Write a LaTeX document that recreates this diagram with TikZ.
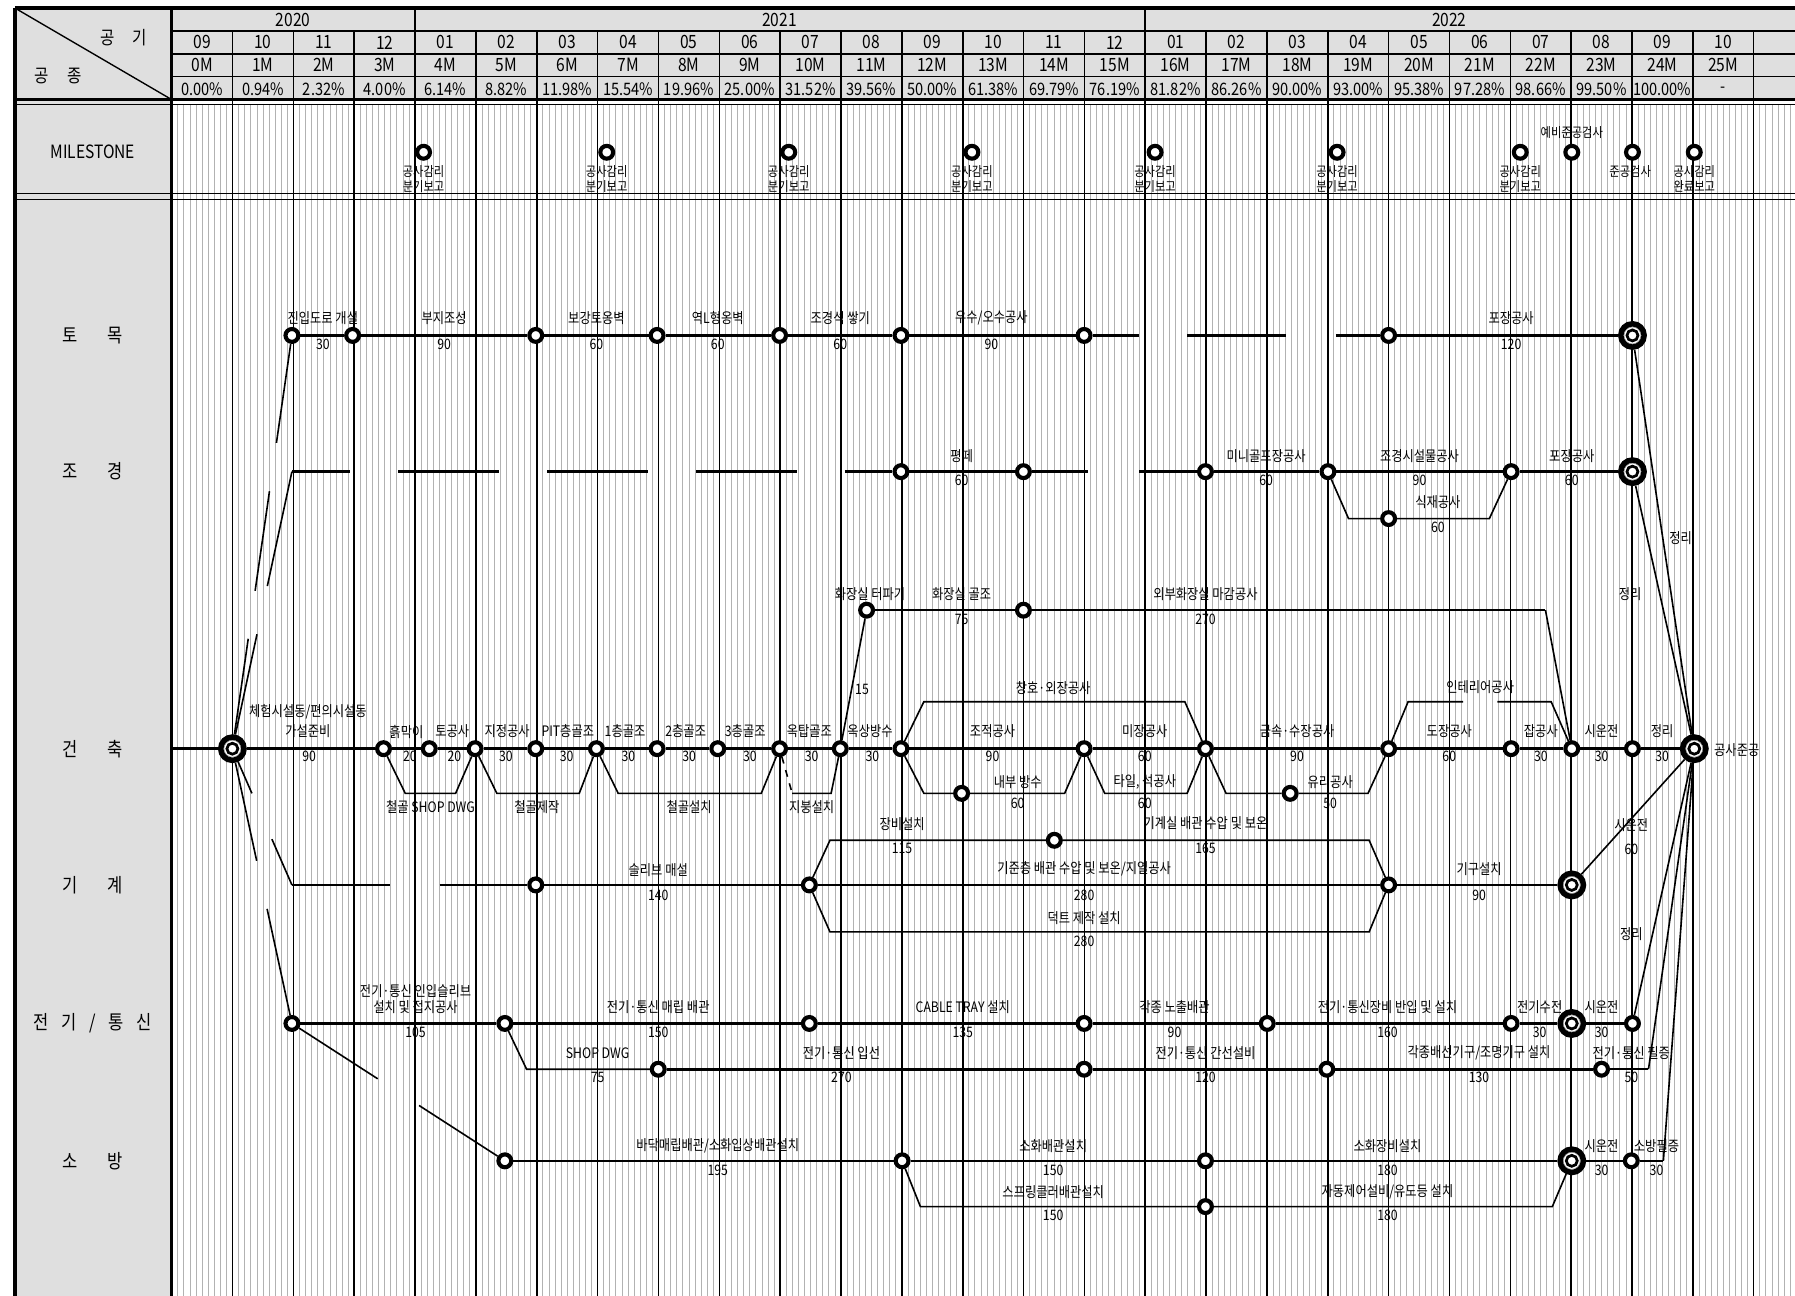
\documentclass[tikz,border=0pt]{standalone}
\usepackage{fontspec}
\setmainfont{Noto Sans CJK KR}[FakeStretch=0.85]
\usetikzlibrary{calc}
\newcounter{lbc}
\newcommand\lbl[3]{\stepcounter{lbc}\node[lab] (lbl\arabic{lbc}) at (#1,#2) {#3};}
\begin{document}
\begin{tikzpicture}[x=0.5pt,y=-0.5pt,
  ev/.style={circle,draw,fill=white,line width=1.8pt,minimum size=5.6pt,inner sep=0pt},
  bigev/.style={circle,draw,fill=white,line width=2.4pt,minimum size=10.2pt,inner sep=0pt,
     path picture={\draw[line width=1.2pt] (path picture bounding box.center) circle (2.4pt);
                   \draw[gray,line width=0.2pt] (path picture bounding box.center) circle (3.7pt);}},
  act/.style={line width=1.1pt},
  lnk/.style={line width=0.7pt},
  lab/.style={font=\fontsize{6.3}{6.3}\selectfont,inner sep=0pt},
  msl/.style={font=\fontsize{5.8}{5.8}\selectfont,inner sep=0pt},
  hdr/.style={font=\fontsize{8}{8}\selectfont,inner sep=0pt},
  pct/.style={font=\fontsize{7.5}{7.5}\selectfont,inner sep=0pt},
  side/.style={font=\fontsize{8.5}{8.5}\selectfont,inner sep=0pt},
  gridsub/.style={gray!60,line width=0.35pt},
  gridmon/.style={black,line width=0.7pt},
]
\useasboundingbox (0,0) rectangle (1568,1132);
\clip (0,0) rectangle (1568,1132);
\fill[white] (0,0) rectangle (1568,1132);
% backgrounds
\fill[gray!25] (13,7) rectangle (1568,87);
\fill[gray!25] (13,87) rectangle (150,1132);
% grid
\foreach \i in {0,...,26} {
  \foreach \j in {1,...,9} {
    \draw[gridsub] ({150+53.15*\i+5.315*\j},91) -- ({150+53.15*\i+5.315*\j},1132);
  }
}
\foreach \i in {0,...,26} \draw[gridmon] ({150+53.15*\i},27) -- ({150+53.15*\i},1132);
\foreach \x in {150,362.6,1000.4} \draw[gridmon] (\x,7) -- (\x,27);
\foreach \y in {27,47,67} \draw[line width=0.6pt] (150,\y) -- (1568,\y);
\draw[line width=1.1pt] (13,87) -- (1568,87);
\draw[line width=0.6pt] (13,91) -- (1568,91);
\draw[line width=0.6pt] (13,169) -- (1568,169);
\draw[line width=0.6pt] (13,174) -- (1568,174);
\draw[line width=1.6pt] (13,7) -- (1568,7);
\draw[line width=1.6pt] (13,7) -- (13,1132);
\draw[line width=1.1pt] (150,7) -- (150,1132);
\draw[line width=0.6pt] (13,7) -- (150,87);
% header texts
\node[hdr] (hq1) at (108,33) {공\hspace{1em}기};
\node[hdr] (hq2) at (51,66) {공\hspace{1em}종};
\node[hdr] (yr1) at (256,17) {2020};
\node[hdr] (yr2) at (681,17) {2021};
\node[hdr] (yr3) at (1266,17) {2022};
\foreach \m [count=\k from 0] in {09,10,11,12,01,02,03,04,05,06,07,08,09,10,11,12,01,02,03,04,05,06,07,08,09,10}
  \node[hdr] (mo\k) at ({150+53.15*(\k+0.5)},37) {\m};
\foreach \k in {0,...,25}
  \node[hdr] (mm\k) at ({150+53.15*(\k+0.5)},57) {\k M};
\foreach \p [count=\k from 0] in {0.00\%,0.94\%,2.32\%,4.00\%,6.14\%,8.82\%,11.98\%,15.54\%,19.96\%,25.00\%,31.52\%,39.56\%,50.00\%,61.38\%,69.79\%,76.19\%,81.82\%,86.26\%,90.00\%,93.00\%,95.38\%,97.28\%,98.66\%,99.50\%,100.00\%,-}
  \node[pct] (pc\k) at ({150+53.15*(\k+0.5)},78) {\p};
% side labels
\node[hdr] (sMS) at (81,133) {MILESTONE};
\node[side] (s1) at (81,293) {토\hspace{1.5em}목};
\node[side] (s2) at (81,412) {조\hspace{1.5em}경};
\node[side] (s3) at (81,654) {건\hspace{1.5em}축};
\node[side] (s4) at (81,773) {기\hspace{1.5em}계};
\node[side] (s5) at (81,894) {전\hspace{0.65em}기\hspace{0.65em}/\hspace{0.65em}통\hspace{0.65em}신};
\node[side] (s6) at (81,1014) {소\hspace{1.5em}방};
% milestones
\foreach \x [count=\k] in {370,530,689,849,1009,1168,1328,1373,1426,1480}
  \node[ev] (m\k) at (\x,133) {};
\foreach \x [count=\k] in {370,530,689,849,1009,1168,1328} {
  \node[msl] (ma\k) at (\x,150) {공사감리};
  \node[msl] (mb\k) at (\x,163) {분기보고};
}
\node[msl] (mc1) at (1373,116) {예비준공검사};
\node[msl] (mc2) at (1424,150) {준공검사};
\node[msl] (mc3) at (1480,150) {공사감리};
\node[msl] (mc4) at (1480,163) {완료보고};
% ---------- nodes ----------
% 토목
\node[ev] (T1) at (255,293) {};
\node[ev] (T2) at (308,293) {};
\node[ev] (T3) at (468,293) {};
\node[ev] (T4) at (574,293) {};
\node[ev] (T5) at (681,293) {};
\node[ev] (T6) at (787,293) {};
\node[ev] (T7) at (947,293) {};
\node[ev] (T8) at (1213,293) {};
\node[bigev] (T9) at (1426,293) {};
\coordinate (T7a) at (995,293);
\coordinate (T7b) at (1037,293);
\coordinate (T7c) at (1123,293);
\coordinate (T7d) at (1167,293);
% 조경
\coordinate (J0) at (255,412);
\node[ev] (J1) at (787,412) {};
\node[ev] (J2) at (894,412) {};
\node[ev] (J3) at (1053,412) {};
\node[ev] (J4) at (1160,412) {};
\node[ev] (J5) at (1320,412) {};
\node[bigev] (J6) at (1426,412) {};
\node[ev] (J7) at (1213,453) {};
% 건축
\coordinate (A0) at (150,654);
\node[bigev] (S) at (203,654) {};
\node[ev] (A1) at (335,654) {};
\node[ev] (A2) at (375,654) {};
\node[ev] (A3) at (415,654) {};
\node[ev] (A4) at (468,654) {};
\node[ev] (A5) at (521,654) {};
\node[ev] (A6) at (574,654) {};
\node[ev] (A7) at (627,654) {};
\node[ev] (A8) at (681,654) {};
\node[ev] (A9) at (734,654) {};
\node[ev] (A10) at (787,654) {};
\node[ev] (A11) at (947,654) {};
\node[ev] (A12) at (1053,654) {};
\node[ev] (A13) at (1213,654) {};
\node[ev] (A14) at (1320,654) {};
\node[ev] (A15) at (1373,654) {};
\node[ev] (A16) at (1426,654) {};
\node[bigev] (E) at (1480,654) {};
\node[ev] (B1) at (757,533) {};
\node[ev] (B2) at (894,533) {};
\node[ev] (B3) at (840,693) {};
\node[ev] (B4) at (1127,693) {};
% 기계
\coordinate (K0) at (255,773);
\node[ev] (K1) at (468,773) {};
\node[ev] (K2) at (707,773) {};
\node[ev] (K3) at (921,734) {};
\node[ev] (K4) at (1213,773) {};
\node[bigev] (K5) at (1373,773) {};
% 전기
\node[ev] (P1) at (255,894) {};
\node[ev] (P2) at (441,894) {};
\node[ev] (P3) at (707,894) {};
\node[ev] (P4) at (947,894) {};
\node[ev] (P5) at (1107,894) {};
\node[ev] (P6) at (1320,894) {};
\node[bigev] (P7) at (1373,894) {};
\node[ev] (P8) at (1426,894) {};
\node[ev] (Q1) at (575,934) {};
\node[ev] (Q2) at (947,934) {};
\node[ev] (Q3) at (1159,934) {};
\node[ev] (Q4) at (1399,934) {};
\coordinate (Q5) at (1440,934);
% 소방
\node[ev] (F1) at (441,1014) {};
\node[ev] (F2) at (788,1014) {};
\node[ev] (F3) at (1053,1014) {};
\node[bigev] (F4) at (1373,1014) {};
\node[ev] (F5) at (1425,1014) {};
\coordinate (F6) at (1453,1014);
\node[ev] (G1) at (1053,1054) {};
% ---------- edges ----------
% start links (broken where they cross)
\draw[lnk] (S) -- ($(S)!0.266!(T1)$);
\draw[lnk] ($(S)!0.382!(T1)$) -- ($(S)!0.623!(T1)$);
\draw[lnk] ($(S)!0.74!(T1)$) -- (T1);
\draw[lnk] (S) -- ($(S)!0.413!(J0)$);
\draw[lnk] ($(S)!0.587!(J0)$) -- (J0);
\draw[lnk] (S) -- ($(S)!0.328!(K0)$);
\draw[lnk] ($(S)!0.664!(K0)$) -- (K0);
\draw[lnk] (S) -- ($(S)!0.408!(P1)$);
\draw[lnk] ($(S)!0.583!(P1)$) -- (P1);
\draw[lnk] (P1) -- ($(P1)!0.403!(F1)$);
\draw[lnk] ($(P1)!0.597!(F1)$) -- (F1);
% 토목
\draw[act] (T1) -- (T2);
\draw[act] (T2) -- (T3);
\draw[act] (T3) -- (T4);
\draw[act] (T4) -- (T5);
\draw[act] (T5) -- (T6);
\draw[act] (T6) -- (T7);
\draw[act] (T7) -- (T7a);
\draw[act] (T7b) -- (T7c);
\draw[act] (T7d) -- (T8);
\draw[act] (T8) -- (T9);
% 조경
\draw[act] (J0) -- (306,412);
\draw[act] (348,412) -- (436,412);
\draw[act] (478,412) -- (566,412);
\draw[act] (608,412) -- (696,412);
\draw[act] (738,412) -- (J1);
\draw[act] (J1) -- (J2);
\draw[act] (J2) -- (950,412);
\draw[act] (995,412) -- (J3);
\draw[act] (J3) -- (J4);
\draw[act] (J4) -- (J5);
\draw[act] (J5) -- (J6);
\draw[lnk] (J4) -- (1178,453) -- (J7);
\draw[lnk] (J7) -- (1301,453) -- (J5);
% 건축 main
\draw[act] (A0) -- (S);
\draw[act] (S) -- (A1);
\draw[act] (A1) -- (A2);
\draw[act] (A2) -- (A3);
\draw[act] (A3) -- (A4);
\draw[act] (A4) -- (A5);
\draw[act] (A5) -- (A6);
\draw[act] (A6) -- (A7);
\draw[act] (A7) -- (A8);
\draw[act] (A8) -- (A9);
\draw[act] (A9) -- (A10);
\draw[act] (A10) -- (A11);
\draw[act] (A11) -- (A12);
\draw[act] (A12) -- (A13);
\draw[act] (A13) -- (A14);
\draw[act] (A14) -- (A15);
\draw[act] (A15) -- (A16);
\draw[act] (A16) -- (E);
% 건축 branches
\draw[lnk] (A1) -- (354,693) -- (398,693) -- (A3);
\draw[lnk] (A3) -- (434,693) -- (506,693) -- (A5);
\draw[lnk] (A5) -- (540,693) -- (665,693) -- (A8);
\draw[lnk,dashed] (A8) -- (692,693);
\draw[lnk] (692,693) -- (726,693) -- (A9);
\draw[lnk] (A9) -- (B1);
\draw[act] (B1) -- (B2);
\draw[act] (B2) -- (1350,533);
\draw[lnk] (1350,533) -- (A15);
\draw[lnk] (A10) -- (807,613) -- (1035,613) -- (A12);
\draw[lnk] (A10) -- (807,693) -- (B3);
\draw[lnk] (B3) -- (930,693) -- (A11);
\draw[lnk] (A11) -- (965,693) -- (1037,693) -- (A12);
\draw[lnk] (A12) -- (1071,693) -- (B4);
\draw[lnk] (B4) -- (1195,693) -- (A13);
\draw[lnk] (A13) -- (1230,613) -- (1278,613);
\draw[lnk] (1308,613) -- (1355,613) -- (A15);
% 기계
\draw[act] (K0) -- (341,773);
\draw[act] (384,773) -- (K1);
\draw[act] (K1) -- (K2);
\draw[act] (K2) -- (K4);
\draw[lnk] (K2) -- (725,734) -- (K3);
\draw[lnk] (K3) -- (1196,734) -- (K4);
\draw[lnk] (K2) -- (725,814) -- (1196,814) -- (K4);
\draw[act] (K4) -- (K5);
% 전기
\draw[act] (P1) -- (P2);
\draw[act] (P2) -- (P3);
\draw[act] (P3) -- (P4);
\draw[act] (P4) -- (P5);
\draw[act] (P5) -- (P6);
\draw[act] (P6) -- (P7);
\draw[act] (P7) -- (P8);
\draw[lnk] (P2) -- (460,934) -- (Q1);
\draw[act] (Q1) -- (Q2);
\draw[act] (Q2) -- (Q3);
\draw[act] (Q3) -- (Q4);
\draw[lnk] (Q4) -- (Q5);
% 소방
\draw[act] (F1) -- (F2);
\draw[act] (F2) -- (F3);
\draw[act] (F3) -- (F4);
\draw[act] (F4) -- (F5);
\draw[lnk] (F5) -- (F6);
\draw[lnk] (F2) -- (804,1054) -- (G1);
\draw[lnk] (G1) -- (1356,1054) -- (F4);
% to completion
\draw[lnk] (T9) -- (E);
\draw[lnk] (J6) -- (E);
\draw[lnk] (K5) -- (E);
\draw[lnk] (P8) -- (E);
\draw[lnk] (Q5) -- (E);
\draw[lnk] (F6) -- (E);
% ---------- labels ----------
% 토목
\lbl{282}{278}{진입도로 개설}\lbl{282}{301}{30}
\lbl{388}{278}{부지조성}\lbl{388}{301}{90}
\lbl{521}{278}{보강토옹벽}\lbl{521}{301}{60}
\lbl{627}{278}{역L형옹벽}\lbl{627}{301}{60}
\lbl{734}{278}{조경석 쌓기}\lbl{734}{301}{60}
\lbl{866}{278}{우수/오수공사}\lbl{866}{301}{90}
\lbl{1320}{278}{포장공사}\lbl{1320}{301}{120}
\lbl{1468}{470}{정리}
% 조경
\lbl{840}{398}{평떼}\lbl{840}{420}{60}
\lbl{1106}{398}{미니골프장공사}\lbl{1106}{420}{60}
\lbl{1240}{398}{조경시설물공사}\lbl{1240}{420}{90}
\lbl{1373}{398}{포장공사}\lbl{1373}{420}{60}
\lbl{1256}{439}{식재공사}\lbl{1256}{461}{60}
\lbl{1424}{519}{정리}
% 건축
\lbl{269}{622}{체험시설동/편의시설동}
\lbl{269}{639}{가설준비}\lbl{270}{661}{90}
\lbl{355}{639}{흙막이}\lbl{358}{661}{20}
\lbl{395}{639}{토공사}\lbl{397}{661}{20}
\lbl{443}{639}{지정공사}\lbl{442}{661}{30}
\lbl{496}{639}{PIT층골조}\lbl{495}{661}{30}
\lbl{546}{639}{1층골조}\lbl{549}{661}{30}
\lbl{599}{639}{2층골조}\lbl{602}{661}{30}
\lbl{651}{639}{3층골조}\lbl{655}{661}{30}
\lbl{707}{639}{옥탑골조}\lbl{709}{661}{30}
\lbl{760}{639}{옥상방수}\lbl{762}{661}{30}
\lbl{867}{639}{조적공사}\lbl{867}{661}{90}
\lbl{1000}{639}{미장공사}\lbl{1000}{661}{60}
\lbl{1133}{639}{금속·수장공사}\lbl{1133}{661}{90}
\lbl{1266}{639}{도장공사}\lbl{1266}{661}{60}
\lbl{1346}{639}{잡공사}\lbl{1346}{661}{30}
\lbl{1399}{639}{시운전}\lbl{1399}{661}{30}
\lbl{1452}{639}{정리}\lbl{1452}{661}{30}
\node[lab,anchor=west] (done) at (1497,655) {공사준공};
\lbl{376}{705}{철골 SHOP DWG}
\lbl{469}{705}{철골제작}
\lbl{602}{705}{철골설치}
\lbl{709}{705}{지붕설치}
\lbl{760}{519}{화장실 터파기}\lbl{753}{602}{15}
\lbl{840}{519}{화장실 골조}\lbl{840}{541}{75}
\lbl{1053}{519}{외부화장실 마감공사}\lbl{1053}{541}{270}
\lbl{920}{601}{창호·외장공사}
\lbl{889}{683}{내부 방수}\lbl{889}{702}{60}
\lbl{1000}{683}{타일, 석공사}\lbl{1000}{702}{60}
\lbl{1162}{683}{유리공사}\lbl{1162}{702}{50}
\lbl{1293}{600}{인테리어공사}
% 기계
\lbl{575}{760}{슬리브 매설}\lbl{575}{782}{140}
\lbl{788}{720}{장비설치}\lbl{788}{741}{115}
\lbl{1053}{719}{기계실 배관 수압 및 보온}\lbl{1053}{741}{165}
\lbl{947}{759}{기준층 배관 수압 및 보온/지열공사}\lbl{947}{782}{280}
\lbl{947}{802}{덕트 제작 설치}\lbl{947}{822}{280}
\lbl{1292}{759}{기구설치}\lbl{1292}{782}{90}
\lbl{1425}{721}{시운전}\lbl{1425}{742}{60}
\lbl{1425}{816}{정리}
% 전기
\lbl{363}{866}{전기·통신 인입슬리브}
\lbl{363}{880}{설치 및 접지공사}\lbl{363}{902}{105}
\lbl{575}{880}{전기·통신 매립 배관}\lbl{575}{902}{150}
\lbl{841}{880}{CABLE TRAY 설치}\lbl{841}{902}{135}
\lbl{1026}{880}{각종 노출배관}\lbl{1026}{902}{90}
\lbl{1212}{880}{전기·통신장비 반입 및 설치}\lbl{1212}{902}{160}
\lbl{1345}{880}{전기수전}\lbl{1345}{902}{30}
\lbl{1399}{880}{시운전}\lbl{1399}{902}{30}
\lbl{522}{920}{SHOP DWG}\lbl{522}{941}{75}
\lbl{735}{920}{전기·통신 입선}\lbl{735}{941}{270}
\lbl{1053}{920}{전기·통신 간선설비}\lbl{1053}{941}{120}
\lbl{1292}{920}{각종배선기구/조명기구 설치}\lbl{1292}{941}{130}
\lbl{1425}{920}{전기·통신 필증}\lbl{1425}{941}{50}
% 소방
\lbl{627}{1001}{바닥매립배관/소화입상배관설치}\lbl{627}{1022}{195}
\lbl{920}{1001}{소화배관설치}\lbl{920}{1022}{150}
\lbl{920}{1041}{스프링클러배관설치}\lbl{920}{1062}{150}
\lbl{1212}{1001}{소화장비설치}\lbl{1212}{1022}{180}
\lbl{1212}{1041}{자동제어설비/유도등 설치}\lbl{1212}{1062}{180}
\lbl{1399}{1001}{시운전}\lbl{1399}{1022}{30}
\lbl{1447}{1001}{소방필증}\lbl{1447}{1022}{30}
\end{tikzpicture}
\end{document}
